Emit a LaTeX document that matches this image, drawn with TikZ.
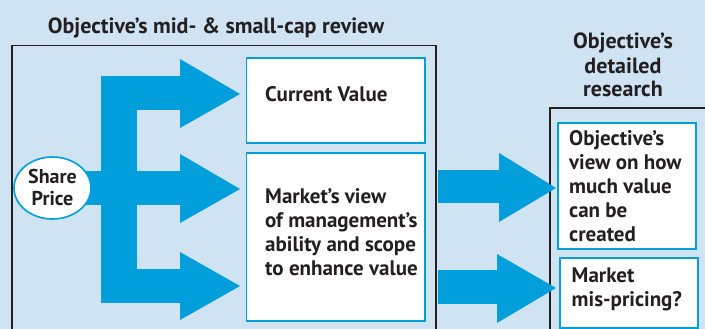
\documentclass[tikz,border=0pt]{standalone}
\usepackage{fontspec}
\setmainfont{PT Sans}
\usetikzlibrary{shapes.geometric}
\begin{document}
\definecolor{paneBg}{RGB}{207,227,243}
\definecolor{flowBlue}{RGB}{0,158,219}
\definecolor{inkDark}{RGB}{35,31,32}
\begin{tikzpicture}[x=1pt,y=-1pt,
  frame/.style={draw=inkDark,line width=1.3pt},
  valbox/.style={draw=flowBlue,line width=1.8pt,fill=white,inner sep=0pt,anchor=north west},
  txt/.style={text=inkDark,inner sep=0pt,align=left,anchor=base west,
    font=\bfseries\fontsize{21}{24}\selectfont},
  head/.style={text=inkDark,inner sep=0pt,font=\bfseries\fontsize{22}{24}\selectfont}]
\fill[paneBg] (0,0) rectangle (705,329);
\useasboundingbox (0,0) rectangle (705,329);
\clip (0,0) rectangle (705,329);

% section frames
\draw[frame] (12,45.5) rectangle (436,345);
\draw[frame] (550,108) rectangle (720,345);

% headings (the base anchor of a multi-line node sits on its last line)
\node[head,anchor=base] (revtitle) at (216,34) {Objective’s mid- \& small-cap review};
\node[head,anchor=base,align=center] (restitle) at (623,97) {Objective’s\\detailed\\research};

% branching block arrows
\fill[flowBlue] (101,76) rectangle (137,303);
\fill[flowBlue] (101,76) rectangle (181,110);
\fill[flowBlue] (180,59) -- (240,94) -- (180,128) -- cycle;
\fill[flowBlue] (80,171) rectangle (181,205);
\fill[flowBlue] (180,154) -- (240,189) -- (180,223) -- cycle;
\fill[flowBlue] (101,269) rectangle (181,303);
\fill[flowBlue] (180,252) -- (240,286) -- (180,320) -- cycle;

% arrows into the detailed research
\fill[flowBlue] (438,170) rectangle (500,203);
\fill[flowBlue] (499,153) -- (556,188) -- (499,222) -- cycle;
\fill[flowBlue] (438,270) rectangle (498,304);
\fill[flowBlue] (497,254) -- (556,288) -- (497,323) -- cycle;

% share price
\node[ellipse,draw=flowBlue,line width=1.6pt,fill=white,minimum width=77pt,minimum height=62pt,inner sep=0pt] (share) at (52.5,188) {};
\node[txt,align=center,anchor=base,font=\bfseries\fontsize{20}{22}\selectfont] (sharetxt) at (52.5,205) {Share\\Price};

% value boxes
\node[valbox,minimum width=178.5pt,minimum height=85pt] (cv) at (245.5,57) {};
\node[txt] (cvtxt) at (265,101.5) {Current Value};
\node[valbox,minimum width=178.5pt,minimum height=168pt] (mv) at (245.5,152) {};
\node[txt] (mvtxt) at (265,275) {Market’s view\\of management’s\\ability and scope\\to enhance value};

% research boxes
\node[valbox,minimum width=138pt,minimum height=126pt] (ov) at (557,122) {};
\node[txt] (ovtxt) at (569,241) {Objective’s\\view on how\\much value\\can be\\created};
\node[valbox,minimum width=138pt,minimum height=70pt] (mp) at (559,257) {};
\node[txt] (mptxt) at (571.5,306) {Market\\mis-pricing?};
\end{tikzpicture}
\end{document}
